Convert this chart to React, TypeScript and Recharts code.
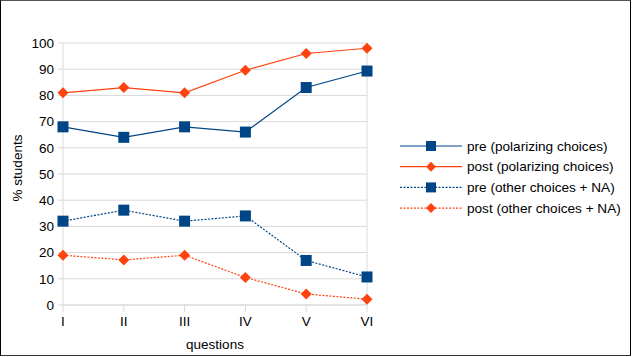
import React from 'react';
import { LineChart, Line, XAxis, YAxis, CartesianGrid, ReferenceLine } from 'recharts';

const questions = ['I', 'II', 'III', 'IV', 'V', 'VI'];
const prePolarizing = [68, 64, 68, 66, 83, 89.3];
const postPolarizing = [81, 83, 81, 89.6, 96, 98];
const preOther = [32, 36.2, 32, 34, 17, 10.7];
const postOther = [19, 17.2, 19, 10.5, 4.2, 2.2];
const yTicks = [0, 10, 20, 30, 40, 50, 60, 70, 80, 90, 100];

const seriesNames = [
  'pre (polarizing choices)',
  'post (polarizing choices)',
  'pre (other choices + NA)',
  'post (other choices + NA)',
];

const BLUE = '#004586';
const ORANGE = '#ff420e';
const GRID = '#d9d9d9';
const FONT = '"Liberation Sans", Arial, sans-serif';

const data = questions.map((q, i) => ({
  q,
  a: prePolarizing[i],
  b: postPolarizing[i],
  c: preOther[i],
  d: postOther[i],
}));

const Square = (props: any) => {
  const { cx, cy, key } = props;
  if (cx == null || cy == null) return null;
  return <rect key={key} x={cx - 5.5} y={cy - 5.5} width={11} height={11} fill={BLUE} />;
};

const Diamond = (props: any) => {
  const { cx, cy, key } = props;
  if (cx == null || cy == null) return null;
  return (
    <polygon
      key={key}
      points={`${cx},${cy - 5.5} ${cx + 5.5},${cy} ${cx},${cy + 5.5} ${cx - 5.5},${cy}`}
      fill={ORANGE}
    />
  );
};

const legendItems = [
  { name: seriesNames[0], color: BLUE, dash: undefined, shape: 'square' },
  { name: seriesNames[1], color: ORANGE, dash: undefined, shape: 'diamond' },
  { name: seriesNames[2], color: BLUE, dash: '2 1.5', shape: 'square' },
  { name: seriesNames[3], color: ORANGE, dash: '2 1.5', shape: 'diamond' },
];

const CustomLegend = () => (
  <svg width={232} height={90} style={{ position: 'absolute', left: 400, top: 138, overflow: 'visible' }}>
    {legendItems.map((it, i) => {
      const y = 8 + i * 20.7;
      return (
        <g key={i}>
          <line x1={0} x2={62} y1={y} y2={y} stroke={it.color} strokeWidth={1.2} strokeDasharray={it.dash} />
          {it.shape === 'square' ? (
            <rect x={31 - 5} y={y - 5} width={10} height={10} fill={it.color} />
          ) : (
            <polygon points={`31,${y - 5} 36,${y} 31,${y + 5} 26,${y}`} fill={it.color} />
          )}
          <text x={67} y={y} dy="0.35em" fontSize={13.6} fontFamily={FONT} fill="#000">
            {it.name}
          </text>
        </g>
      );
    })}
  </svg>
);

export default function App() {
  return (
    <div style={{ position: 'absolute', left: 0, top: 0, width: 632, height: 357, background: '#fff' }}>
      <LineChart
        width={632}
        height={357}
        data={data}
        margin={{ top: 43, right: 265, bottom: 0, left: 0 }}
      >
        <CartesianGrid horizontal={true} vertical={false} stroke={GRID} />
        <XAxis
          dataKey="q"
          scale="point"
          height={52}
          padding={{ left: 0, right: 0 }}
          tick={{ fontSize: 13.5, fill: '#000', fontFamily: FONT }}
          tickLine={{ stroke: GRID }}
          tickSize={7}
          tickMargin={4}
          axisLine={{ stroke: GRID }}
          label={{ value: 'questions', position: 'bottom', offset: -18, fontSize: 13.5, fill: '#000', fontFamily: FONT }}
        />
        <YAxis
          width={63}
          domain={[0, 100]}
          ticks={yTicks}
          interval={0}
          tick={{ fontSize: 13.5, fill: '#000', fontFamily: FONT }}
          tickLine={{ stroke: GRID }}
          tickSize={5}
          tickMargin={4}
          axisLine={{ stroke: GRID }}
          label={{ value: '% students', angle: -90, position: 'insideLeft', offset: 17, dy: -6, fontSize: 13.5, fill: '#000', fontFamily: FONT, style: { textAnchor: 'middle' } }}
        />
        <ReferenceLine x="VI" stroke={GRID} />
        <Line dataKey="a" name={seriesNames[0]} stroke={BLUE} strokeWidth={1.2} dot={Square} activeDot={false} isAnimationActive={false} />
        <Line dataKey="b" name={seriesNames[1]} stroke={ORANGE} strokeWidth={1.2} dot={Diamond} activeDot={false} isAnimationActive={false} />
        <Line dataKey="c" name={seriesNames[2]} stroke={BLUE} strokeWidth={1.2} strokeDasharray="2 1.5" dot={Square} activeDot={false} isAnimationActive={false} />
        <Line dataKey="d" name={seriesNames[3]} stroke={ORANGE} strokeWidth={1.2} strokeDasharray="2 1.5" dot={Diamond} activeDot={false} isAnimationActive={false} />
      </LineChart>
      <CustomLegend />
      <div
        style={{
          position: 'absolute',
          left: 0,
          top: 0,
          width: 631,
          height: 356,
          boxSizing: 'border-box',
          borderTop: '1px solid #555',
          borderLeft: '1px solid #000',
          borderRight: '1px solid #000',
          borderBottom: '1px solid #333',
          pointerEvents: 'none',
        }}
      />
    </div>
  );
}
